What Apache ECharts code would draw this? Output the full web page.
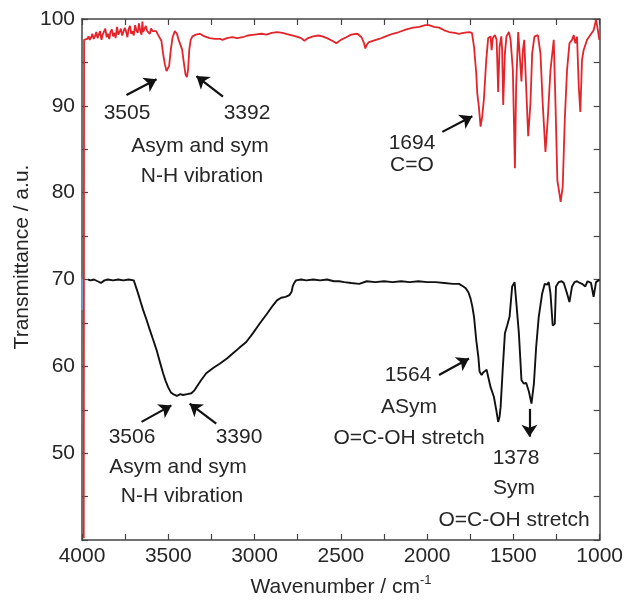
<!DOCTYPE html>
<html>
<head>
<meta charset="utf-8">
<script src="https://cdn.jsdelivr.net/npm/echarts@6/dist/echarts.min.js"></script>
<style>html,body{margin:0;padding:0;background:#fff}#c{width:626px;height:606px}</style>
</head>
<body>
<div id="c"></div>
<script>
// ---- data ----
const xTicks = [4000, 3500, 3000, 2500, 2000, 1500, 1000];
const yTicks = [50, 60, 70, 80, 90, 100];

const redWn = [3990,3988,3978,3970,3962,3955,3947,3940,3932,3925,3917,3910,3902,3895,3887,3880,3872,3865,3857,3850,3842,3835,3827,3820,3812,3805,3797,3790,3782,3775,3767,3760,3752,3745,3737,3730,3722,3715,3707,3700,3692,3685,3677,3670,3662,3655,3650,3645,3637,3630,3622,3615,3607,3600,3590,3580,3570,3560,
3550,3540,3530,3520,3510,3503,3495,3485,3475,3462,3450,3440,3420,3410,3400,3392,3385,3378,3370,3360,3340,3318,3290,3260,3230,3200,3185,3160,3130,3100,3069,3040,3000,2960,2931,2900,2870,2838,2800,2760,2730,2711,2690,2660,2630,2607,2580,2550,2526,2500,2468,2440,2404,2380,2365,2358,2350,2340,2310,2278,2240,2200,2162,2120,2080,2046,2010,1989,1960,1931,1900,1873,1840,1815,1790,1757,1748,1740,1728,1715,1709,1700,1690,1681,1671,1657,1646,
1642,1632,1626,1619,1607,1597,1588,1580,1570,1565,1559,1549,1540,1536,1526,1516,1503,1491,1484,1472,1463,1453,1445,1437,1426,1414,1401,1391,1378,1358,1343,1330,1314,1301,1285,1266,1256,1245,1233,1226,1214,1202,1189,1175,1160,1150,1141,1131,1121,1112,1102,1093,1073,1054,1035,1021,1010,1002];
const redT = [40.2,97.6,97.8,97.7,98.0,97.6,97.9,98.3,97.7,98.0,98.5,97.8,97.9,98.6,97.6,98.2,98.0,98.9,97.9,98.3,97.7,98.5,98.8,98.0,98.4,97.8,99.1,98.2,98.5,98.9,98.1,98.3,99.0,98.6,97.9,98.8,99.2,98.3,98.6,98.1,99.3,98.7,98.4,99.5,98.6,98.2,99.7,98.5,98.9,99.2,98.6,98.7,98.3,98.9,98.6,98.4,98.6,98.2,
98.3,97.5,96.0,94.8,94.0,93.9,94.6,96.5,97.9,98.6,98.3,97.6,96.5,95.0,93.6,93.3,94.2,96.5,97.6,98.0,98.2,98.3,98.0,97.8,97.7,97.7,97.6,97.8,97.9,97.8,97.9,98.1,98.2,98.3,98.2,98.4,98.5,98.4,98.2,98.0,97.8,97.5,97.8,98.0,98.1,98.0,97.8,97.5,97.2,97.6,97.9,98.2,98.3,97.9,97.2,96.6,97.0,97.3,97.5,97.7,98.0,98.3,98.5,98.8,99.0,99.1,99.3,99.3,99.1,99.0,98.7,98.5,98.4,98.3,98.4,98.5,98.7,98.4,96.8,93.7,91.4,89.9,87.6,88.7,90.7,95.3,97.8,
98.0,98.0,96.4,97.8,98.15,97.6,91.6,96.8,98.0,96.4,90.1,96.05,98.0,98.15,98.5,97.6,94.1,82.8,92.2,98.5,98.35,92.8,96.4,97.6,92.2,86.5,90.3,96.05,97.97,98.15,96.05,90.3,84.7,88.4,94.1,97.6,90.3,81.4,79.9,78.95,80.7,88.4,94.1,97.2,97.6,98.15,97.2,97.97,92.2,89.3,95.3,96.4,97.6,98.15,98.7,99.9,98.7,97.6];

const blackWn = [3965,3950,3930,3910,3890,3870,3850,3820,3790,3760,3730,3700,3694,3675,3660,3646,3625,3607,3590,3568,3550,3530,3515,3501,3485,3472,3450,3430,3414,3390,3366,3350,3337,3310,3280,3240,3202,3160,3125,3090,3048,3010,2971,2930,2894,2870,2846,2820,2798,2785,2779,2770,2760,2730,2700,2660,2620,2580,2540,2509,2480,2440,2393,2350,2300,2250,2200,2150,2100,2050,2000,1950,1900,1850,1815,1790,1776,1760,1748,1738,1728,1715,1703,1696,1684,1675,1665,1655,1646,1632,1613,1599,1588,1580,1574,1561,1549,1536,1522,1507,1493,1484,1468,1453,1439,1426,1410,1395,1381,1368,1353,1333,1318,1304,1295,1285,1272,1260,1253,1237,1220,1208,1189,1175,1160,1145,1131,1115,1102,1083,1070,1064,1050,1035,1021,1006,1000];
const blackT = [70.0,69.9,70.0,69.8,69.6,69.9,70.0,69.9,70.0,69.9,70.0,69.9,69.8,68.4,67.4,66.5,65.3,64.2,63.2,61.9,60.6,59.2,58.3,57.6,57.0,56.8,56.6,56.8,56.7,56.8,56.9,57.2,57.6,58.4,59.2,59.8,60.3,60.9,61.5,62.1,62.8,63.8,64.9,66.0,67.0,67.6,67.9,68.0,68.2,68.6,69.2,69.6,69.9,70.0,69.9,70.0,69.9,70.0,69.8,69.8,69.7,69.6,69.5,69.8,69.7,69.8,69.7,69.8,69.7,69.8,69.7,69.7,69.6,69.5,69.5,69.2,69.0,68.5,67.8,66.9,65.7,63.0,61.1,59.4,59.0,59.3,59.4,59.6,58.8,57.6,56.5,54.95,53.6,54.2,55.3,59.9,63.8,64.7,65.7,69.2,69.7,67.6,63.8,58.4,58.0,58.1,57.1,55.7,58.0,62.2,65.7,68.4,69.5,69.4,69.7,68.4,64.7,64.9,69.2,69.7,69.8,69.6,68.4,67.4,69.2,69.7,69.8,69.6,69.5,69.2,69.8,69.7,69.6,68.0,69.7,69.9,70.0];

const blueWn = [3999, 3999];
const blueT = [70.1, 66.5];

// annotation arrows (tail -> head), data coordinates
const arrowFrom = [[3742,91.24],[3183,91.05],[1912,87.0],[3655,53.6],[3222,53.4],[1931,59.0],[1407,55.1]];
const arrowTo   = [[3568,93.05],[3337,93.43],[1738,88.8],[3482,55.5],[3376,55.7],[1757,60.9],[1407,51.9]];

// annotation texts
const noteTexts = ['3505','3392','Asym and sym','N-H vibration','1694','C=O',
  '3506','3390','Asym and sym','N-H vibration','1564','ASym','O=C-OH stretch','1378','Sym','O=C-OH stretch'];
const notePos = [[127,113],[247,113],[200,146],[202,176],[412,143],[412,165],
  [132,437],[239,437],[178,467],[182,496],[408,375],[409,407],[409,438],[516,458],[514,488],[514,520]];

// ---- chart ----
const FONT = '"Liberation Sans", Arial, sans-serif';
const TXT = '#262626';
const AX = '#444';
const zip = (a, b) => a.map((v, i) => [v, b[i]]);

const chart = echarts.init(document.getElementById('c'), null, {renderer: 'canvas'});

const xBase = {
  type: 'value', min: 1000, max: 4000, interval: 500, inverse: true,
  axisLine: {show: true, onZero: false, lineStyle: {color: AX, width: 1.5}},
  axisTick: {show: true, inside: true, length: 6, lineStyle: {color: AX, width: 1.2}},
  minorTick: {show: true, splitNumber: 2, length: 6, lineStyle: {color: AX, width: 1.2}},
  splitLine: {show: false}
};
const yBase = {
  type: 'value', min: 40, max: 100, interval: 10,
  axisLine: {show: true, onZero: false, lineStyle: {color: AX, width: 1.5}},
  axisTick: {show: true, inside: true, length: 6, lineStyle: {color: AX, width: 1.2}},
  minorTick: {show: true, splitNumber: 2, length: 6, lineStyle: {color: AX, width: 1.2}},
  splitLine: {show: false}
};

const graphics = noteTexts.map((t, i) => ({
  type: 'text', x: notePos[i][0], y: notePos[i][1], silent: true,
  style: {text: t, fontSize: 21, fontFamily: FONT, fill: TXT, align: 'center', verticalAlign: 'middle'}
}));
graphics.push({
  type: 'text', x: 22, y: 257, rotation: Math.PI / 2, silent: true,
  style: {text: 'Transmittance / a.u.', fontSize: 21, fontFamily: FONT, fill: TXT, align: 'center', verticalAlign: 'middle'}
});
graphics.push({
  type: 'text', x: 341, y: 586, silent: true,
  style: {
    text: '{a|Wavenumber / cm}{b|-1}', align: 'center', verticalAlign: 'middle',
    rich: {
      a: {fontSize: 21, fontFamily: FONT, fill: TXT, lineHeight: 24, verticalAlign: 'bottom'},
      b: {fontSize: 13, fontFamily: FONT, fill: TXT, lineHeight: 24, verticalAlign: 'top', padding: [0, 0, 12, 0]}
    }
  }
});

chart.setOption({
  animation: false,
  backgroundColor: '#fff',
  grid: {left: 82, right: 25, top: 19, bottom: 66, containLabel: false},
  xAxis: [
    Object.assign({}, xBase, {
      position: 'bottom',
      axisLabel: {show: true, margin: 6, fontSize: 21, fontFamily: FONT, color: TXT,
        customValues: xTicks, formatter: v => String(v)}
    }),
    Object.assign({}, xBase, {position: 'top', axisLabel: {show: false}})
  ],
  yAxis: [
    Object.assign({}, yBase, {
      position: 'left',
      axisLabel: {show: true, margin: 7, fontSize: 21, fontFamily: FONT, color: TXT,
        customValues: yTicks, formatter: v => String(v)}
    }),
    Object.assign({}, yBase, {position: 'right', axisLabel: {show: false}})
  ],
  graphic: graphics,
  series: [
    {
      name: 'red', type: 'line', xAxisIndex: 0, yAxisIndex: 0, showSymbol: false, symbol: 'none',
      data: zip(redWn, redT), lineStyle: {color: '#e3242b', width: 1.8}, silent: true, z: 3
    },
    {
      name: 'black', type: 'line', xAxisIndex: 0, yAxisIndex: 0, showSymbol: false, symbol: 'none',
      data: zip(blackWn, blackT), lineStyle: {color: '#111', width: 1.9}, silent: true, z: 3,
      markLine: {
        silent: true, symbol: ['none', 'arrow'], symbolSize: 12, animation: false,
        label: {show: false},
        lineStyle: {color: '#111', width: 2.2, type: 'solid'},
        data: arrowFrom.map((f, i) => [{coord: f}, {coord: arrowTo[i]}])
      }
    },
    {
      name: 'blue', type: 'line', xAxisIndex: 0, yAxisIndex: 0, showSymbol: false, symbol: 'none',
      data: zip(blueWn, blueT), lineStyle: {color: '#6fa8dc', width: 1.5}, silent: true, z: 2
    }
  ]
});
</script>
</body>
</html>
